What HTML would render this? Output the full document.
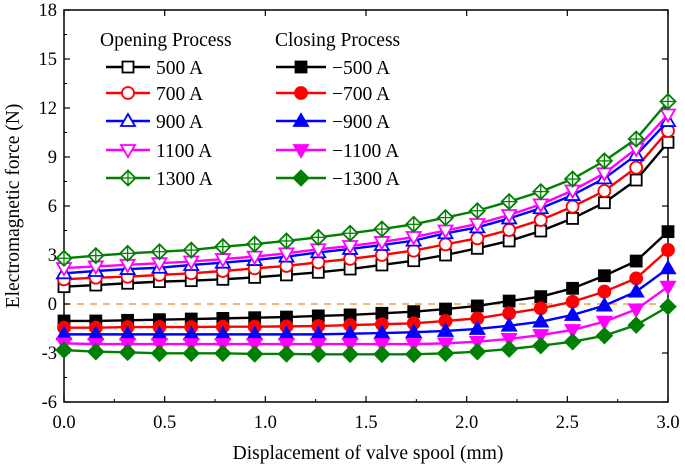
<!DOCTYPE html>
<html><head><meta charset="utf-8"><style>
body{margin:0;background:#fff}
svg{display:block;font-family:"Liberation Serif",serif}
</style></head><body>
<svg id="chart" width="685" height="469" viewBox="0 0 685 469" xmlns="http://www.w3.org/2000/svg">
<g id="axes"></g><g id="series"></g><g id="legend"></g>
</svg>
<script>
const xValues=[0,0.158,0.316,0.474,0.632,0.789,0.947,1.105,1.263,1.421,1.579,1.737,1.895,2.053,2.211,2.368,2.526,2.684,2.842,3.0];
const s500=[1.06,1.16,1.27,1.37,1.43,1.51,1.63,1.78,1.94,2.14,2.39,2.65,3.0,3.41,3.86,4.47,5.24,6.2,7.59,9.9];
const s700=[1.51,1.61,1.67,1.78,1.88,2.02,2.18,2.33,2.55,2.76,3.0,3.27,3.65,4.02,4.53,5.14,5.96,6.92,8.35,10.6];
const s900=[1.88,2.02,2.14,2.22,2.39,2.53,2.69,2.9,3.16,3.37,3.61,3.88,4.33,4.69,5.24,5.86,6.67,7.69,9.12,11.2];
const s1100=[2.2,2.3,2.4,2.5,2.6,2.75,2.9,3.1,3.35,3.55,3.8,4.1,4.5,4.9,5.45,6.1,6.95,8.0,9.5,11.6];
const s1300=[2.8,2.96,3.1,3.2,3.3,3.51,3.67,3.86,4.08,4.33,4.59,4.88,5.29,5.71,6.27,6.88,7.65,8.76,10.1,12.4];
const n500=[-1.04,-1.04,-1.0,-0.96,-0.92,-0.88,-0.84,-0.8,-0.73,-0.67,-0.57,-0.47,-0.31,-0.12,0.18,0.45,0.96,1.73,2.63,4.43];
const n700=[-1.45,-1.45,-1.41,-1.41,-1.41,-1.39,-1.39,-1.37,-1.35,-1.29,-1.24,-1.18,-1.04,-0.88,-0.57,-0.27,0.14,0.76,1.57,3.31];
const n900=[-1.86,-1.86,-1.86,-1.86,-1.86,-1.86,-1.86,-1.86,-1.86,-1.82,-1.78,-1.73,-1.65,-1.53,-1.33,-1.08,-0.67,-0.1,0.76,2.18];
const n1100=[-2.41,-2.45,-2.45,-2.45,-2.45,-2.45,-2.45,-2.45,-2.45,-2.45,-2.45,-2.45,-2.41,-2.31,-2.14,-1.9,-1.59,-1.08,-0.33,1.06];
const n1300=[-2.82,-2.92,-2.96,-3.02,-3.02,-3.02,-3.06,-3.06,-3.08,-3.08,-3.08,-3.08,-3.02,-2.92,-2.76,-2.55,-2.31,-1.94,-1.29,-0.16];
const yTicks=[-6,-3,0,3,6,9,12,15,18];
const xTicks=[0,0.5,1.0,1.5,2.0,2.5,3.0];
const seriesDefs=[
 {name:'500 A',data:s500,color:'#000',m:'square',fill:false,grp:0},
 {name:'700 A',data:s700,color:'#ff0000',m:'circle',fill:false,grp:0},
 {name:'900 A',data:s900,color:'#0000ff',m:'tri',fill:false,grp:0},
 {name:'1100 A',data:s1100,color:'#ff00ff',m:'tridown',fill:false,grp:0},
 {name:'1300 A',data:s1300,color:'#008000',m:'diamond',fill:false,grp:0},
 {name:'\u2212500 A',data:n500,color:'#000',m:'square',fill:true,grp:1},
 {name:'\u2212700 A',data:n700,color:'#ff0000',m:'circle',fill:true,grp:1},
 {name:'\u2212900 A',data:n900,color:'#0000ff',m:'tri',fill:true,grp:1},
 {name:'\u22121100 A',data:n1100,color:'#ff00ff',m:'tridown',fill:true,grp:1},
 {name:'\u22121300 A',data:n1300,color:'#008000',m:'diamond',fill:true,grp:1}];
const L=64,R=668,T=10,B=402;
const X=v=>L+(v-0)/3*(R-L);
const Y=v=>B-(v+6)/24*(B-T);
const NS='http://www.w3.org/2000/svg';
function mk(tag,attrs,parent,text){const e=document.createElementNS(NS,tag);for(const k in attrs)e.setAttribute(k,attrs[k]);if(text!==undefined)e.textContent=text;parent.appendChild(e);return e;}
const axes=document.getElementById('axes');
const zl=mk('line',{x1:L,x2:R,y1:Y(0),y2:Y(0),stroke:'#f0a050','stroke-width':1.5,'stroke-dasharray':'7,6'},axes);


const frame=mk('rect',{x:L,y:T,width:R-L,height:B-T,fill:'none',stroke:'#000','stroke-width':1.5},axes);


yTicks.forEach(v=>{
 mk('line',{x1:L,x2:L+6,y1:Y(v),y2:Y(v),stroke:'#000','stroke-width':1.2},axes);
 mk('line',{x1:R,x2:R-6,y1:Y(v),y2:Y(v),stroke:'#000','stroke-width':1.2},axes);
 if(v<18){mk('line',{x1:L,x2:L+3,y1:Y(v+1.5),y2:Y(v+1.5),stroke:'#000','stroke-width':1},axes);}
 const t=mk('text',{x:L-7,y:Y(v)+6,'text-anchor':'end','font-size':18.5},axes,String(v));
 
 
});
xTicks.forEach(v=>{
 mk('line',{x1:X(v),x2:X(v),y1:B,y2:B-6,stroke:'#000','stroke-width':1.2},axes);
 mk('line',{x1:X(v),x2:X(v),y1:T,y2:T+6,stroke:'#000','stroke-width':1.2},axes);
 if(v<3){mk('line',{x1:X(v+0.25),x2:X(v+0.25),y1:B,y2:B-3,stroke:'#000','stroke-width':1},axes);}
 const t=mk('text',{x:X(v),y:B+26,'text-anchor':'middle','font-size':18.5},axes,v.toFixed(1));
 
 
});
const xt=mk('text',{x:(L+R)/2+2,y:459,'text-anchor':'middle','font-size':19.5},axes,'Displacement of valve spool (mm)');


const yt=mk('text',{x:0,y:0,'text-anchor':'middle','font-size':19.5,transform:`translate(19,${(T+B)/2}) rotate(-90)`},axes,'Electromagnetic force (N)');


function marker(g,m,cx,cy,color,fill){
 const f=fill?color:'#fff';const a={fill:f,stroke:color,'stroke-width':1.8};
 if(m==='square')return mk('rect',Object.assign({x:cx-5.5,y:cy-5.5,width:11,height:11},a),g);
 if(m==='circle')return mk('circle',Object.assign({cx:cx,cy:cy,r:6},a),g);
 if(m==='tri')return mk('polygon',Object.assign({points:`${cx},${cy-7} ${cx-7},${cy+5} ${cx+7},${cy+5}`},a),g);
 if(m==='tridown')return mk('polygon',Object.assign({points:`${cx},${cy+7} ${cx-7},${cy-5} ${cx+7},${cy-5}`},a),g);
 const d=mk('g',{},g);
 mk('polygon',Object.assign({points:`${cx},${cy-7.5} ${cx+7.5},${cy} ${cx},${cy+7.5} ${cx-7.5},${cy}`},a),d);
 if(!fill){mk('line',{x1:cx-7,x2:cx+7,y1:cy,y2:cy,stroke:color,'stroke-width':1.3},d);mk('line',{x1:cx,x2:cx,y1:cy-7,y2:cy+7,stroke:color,'stroke-width':1.3},d);}
 return d;
}
const sg=document.getElementById('series');
seriesDefs.forEach(s=>{
 const g=mk('g',{},sg);
 
 
 const pts=s.data.map((v,i)=>X(xValues[i])+','+Y(v)).join(' ');
 mk('polyline',{points:pts,fill:'none',stroke:s.color,'stroke-width':2.4},g);
 s.data.forEach((v,i)=>{const p=marker(g,s.m,X(xValues[i]),Y(v),s.color,s.fill);
  
  });
});
const lg=document.getElementById('legend');
const h1=mk('text',{x:100,y:46,'font-size':19.5},lg,'Opening Process');


const h2=mk('text',{x:275,y:46,'font-size':19.5},lg,'Closing Process');


const rowsY=[67,93,121,150,178];
seriesDefs.forEach((s,i)=>{
 const r=i%5;const x0=s.grp?276:106;const x1=s.grp?326:150;const y=rowsY[r];
 const g=mk('g',{},lg);
 
 
 mk('line',{x1:x0,x2:x1,y1:y,y2:y,stroke:s.color,'stroke-width':2.4},g);
 marker(g,s.m,(x0+x1)/2,y,s.color,s.fill);
 mk('text',{x:x1+6,y:y+7,'font-size':19.5},g,s.name);
});
</script>
</body></html>
